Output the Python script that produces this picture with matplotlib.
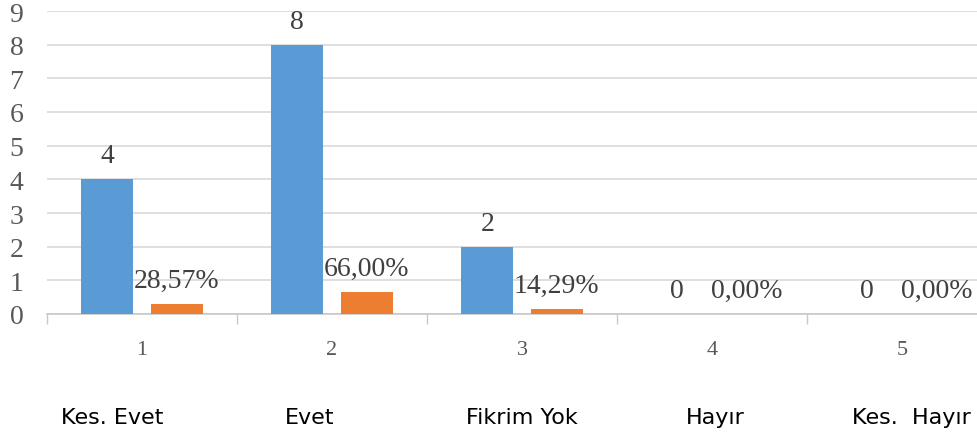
import matplotlib.pyplot as plt
import numpy as np

categories = ["1", "2", "3", "4", "5"]
names = ["Kes. Evet", "Evet", "Fikrim Yok", "Hayır", "Kes.  Hayır"]
counts = [4, 8, 2, 0, 0]
shares = [0.2857, 0.66, 0.1429, 0.0, 0.0]
count_labels = ["4", "8", "2", "0", "0"]
share_labels = ["28,57%", "66,00%", "14,29%", "0,00%", "0,00%"]

blue = "#5B9BD5"
orange = "#ED7D31"
serif = ["Liberation Serif", "DejaVu Serif"]

fig = plt.figure(figsize=(9.78, 4.39), dpi=100)
ax = fig.add_axes([47 / 978, 124 / 439, 950 / 978, 303 / 439])

x = np.arange(len(categories))
w = 0.275
off = 0.183
b1 = ax.bar(x - off, counts, w, color=blue, zorder=3)
b2 = ax.bar(x + off, shares, w, color=orange, zorder=3)

for rect, lab in zip(list(b1) + list(b2), count_labels + share_labels):
    ax.annotate(lab, (rect.get_x() + rect.get_width() / 2, rect.get_height()),
                xytext=(0, 17), textcoords="offset points", ha="center", va="center",
                fontsize=20, color="#404040", family=serif, zorder=4)

ax.set_xlim(-0.5, 4.5)
ax.set_ylim(0, 9)
ax.set_yticks(range(10))
ax.set_yticklabels([str(i) for i in range(10)], family=serif, fontsize=20, color="#595959")
ax.tick_params(axis="y", length=0, pad=17)
ax.yaxis.grid(True, color="#d9d9d9", linewidth=1.2, zorder=0)

ax.set_xticks(np.arange(-0.5, 5, 1))
ax.set_xticklabels([])
ax.tick_params(axis="x", which="major", length=7, color="#c8c8c8", width=1)
ax.set_xticks(x, minor=True)
ax.set_xticklabels(categories, minor=True, family=serif, fontsize=16, color="#595959")
ax.tick_params(axis="x", which="minor", length=0, pad=19)

for s in ["top", "right", "left"]:
    ax.spines[s].set_visible(False)
ax.spines["bottom"].set_color("#c8c8c8")
ax.spines["bottom"].set_linewidth(1.2)

name_x = [112, 310, 522, 715, 852]
for i, (nx, nm) in enumerate(zip(name_x, names)):
    fig.text(nx / 978, 1 - 418 / 439, nm, ha="left" if i == 4 else "center", va="center",
             fontsize=16, family="DejaVu Sans", color="black")

fig.savefig("out.png", dpi=100)
